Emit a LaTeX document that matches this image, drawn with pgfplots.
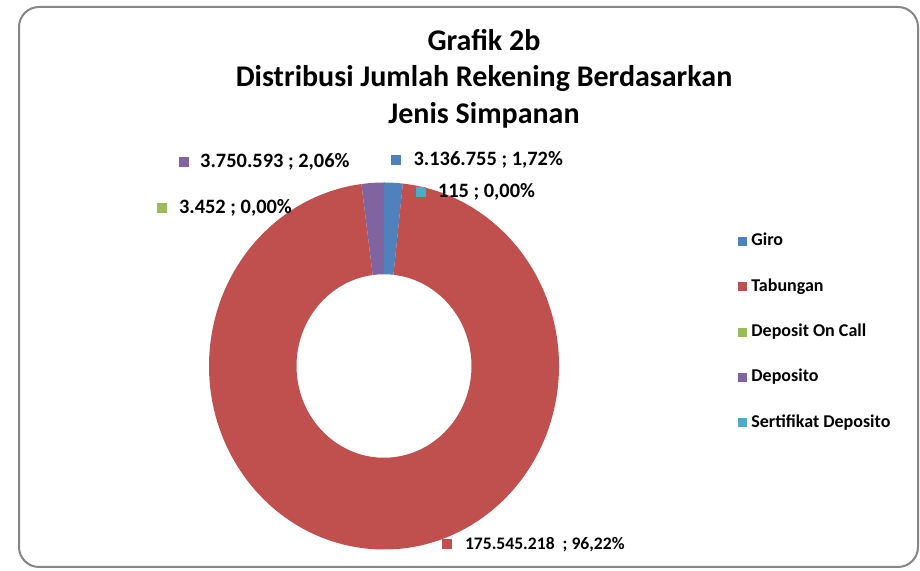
\documentclass[border=0pt]{standalone}
\usepackage{pgfplots}
\pgfplotsset{compat=1.18}
\usepackage{pgfplotstable}
\usepackage{fontspec}
\setmainfont{Carlito}

\definecolor{cGiro}{HTML}{4F81BD}
\definecolor{cTab}{HTML}{C0504D}
\definecolor{cDOC}{HTML}{9BBB59}
\definecolor{cDep}{HTML}{8064A2}
\definecolor{cSer}{HTML}{4BACC6}
\definecolor{cFrame}{HTML}{868686}

\pgfplotstableread{
name value
Giro 3136755
Tabungan 175545218
DepositOnCall 3452
Deposito 3750593
SertifikatDeposito 115
}\datatable

\newcommand\sq[1]{\textcolor{#1}{\rule[0.4pt]{4.8pt}{4.8pt}}}
% donut slice: colour, start angle, end angle (centre 384,205; outer radii 175 x 183.5; inner = half)
\newcommand\slice[3]{%
  \fill[#1] (axis cs:{384+175*cos(#2)},{205+183.5*sin(#2)})
    arc[start angle=#2,end angle=#3,x radius=87.5pt,y radius=91.75pt]
    -- (axis cs:{384+87.5*cos(#3)},{205+91.75*sin(#3)})
    arc[start angle=#3,end angle=#2,x radius=43.75pt,y radius=45.875pt] -- cycle;}

\begin{document}
\begin{tikzpicture}
\pgfplotstablegetelem{0}{value}\of\datatable \edef\vA{\pgfplotsretval}
\pgfplotstablegetelem{1}{value}\of\datatable \edef\vB{\pgfplotsretval}
\pgfplotstablegetelem{2}{value}\of\datatable \edef\vC{\pgfplotsretval}
\pgfplotstablegetelem{3}{value}\of\datatable \edef\vD{\pgfplotsretval}
\pgfplotstablegetelem{4}{value}\of\datatable \edef\vE{\pgfplotsretval}
\edef\T{\fpeval{\vA+\vB+\vC+\vD+\vE}}
\edef\aZ{90}
\edef\aA{\fpeval{round(90-360*(\vA)/\T,4)}}
\edef\aB{\fpeval{round(90-360*(\vA+\vB)/\T,4)}}
\edef\aC{\fpeval{round(90-360*(\vA+\vB+\vC)/\T,4)}}
\edef\aD{\fpeval{round(90-360*(\vA+\vB+\vC+\vD)/\T,4)}}
\edef\aE{-270}
\begin{axis}[
  x=0.5pt, y=0.5pt, xmin=0, xmax=920, ymin=0, ymax=571,
  hide axis, clip=false,
  legend style={at={(axis cs:738,338)}, anchor=north west, draw=none, fill=none,
    font=\bfseries\fontsize{9}{10}\selectfont, row sep=14.35pt, column sep=2pt, inner sep=0pt,
    nodes={inner sep=0pt, text height=6.3pt, text depth=2pt, anchor=west}},
  legend image code/.code={\path[draw=none, fill] (0pt,-2.25pt) rectangle (4.5pt,2.25pt);},
  legend cell align=left,
]
\path (axis cs:0,0) rectangle (axis cs:920,571);
\draw[cFrame, line width=1pt, rounded corners=10pt] (axis cs:19,4) rectangle (axis cs:918,564);

\slice{cGiro}{\aZ}{\aA}
\slice{cTab}{\aA}{\aB}
\slice{cDOC}{\aB}{\aC}
\slice{cDep}{\aC}{\aD}
\slice{cSer}{\aD}{\aE}

\addlegendimage{draw=none, fill=cGiro}\addlegendentry{Giro}
\addlegendimage{draw=none, fill=cTab}\addlegendentry{Tabungan}
\addlegendimage{draw=none, fill=cDOC}\addlegendentry{Deposit On Call}
\addlegendimage{draw=none, fill=cDep}\addlegendentry{Deposito}
\addlegendimage{draw=none, fill=cSer}\addlegendentry{Sertifikat Deposito}

\node[font=\bfseries\fontsize{15}{18.25}\selectfont, align=center] at (axis cs:484,492.5)
  {Grafik 2b\\Distribusi Jumlah Rekening Berdasarkan\\Jenis Simpanan};

\begin{scope}[every node/.style={anchor=west, inner sep=0pt, font=\bfseries\fontsize{10.2}{11}\selectfont}]
\node at (axis cs:179,409) {\sq{cDep}\hspace{5.6pt}3.750.593 ; 2,06\%};
\node at (axis cs:391,411) {\sq{cGiro}\hspace{6.3pt}3.136.755 ; 1,72\%};
\node at (axis cs:416,379) {\sq{cSer}\hspace{6pt}115 ; 0,00\%};
\node at (axis cs:157,363) {\sq{cDOC}\hspace{6pt}3.452 ; 0,00\%};
\node[font=\bfseries\fontsize{8.8}{10}\selectfont] at (axis cs:442,26) {\sq{cTab}\hspace{6.5pt}175.545.218\hspace{4pt}; 96,22\%};
\end{scope}
\end{axis}
\end{tikzpicture}
\end{document}
